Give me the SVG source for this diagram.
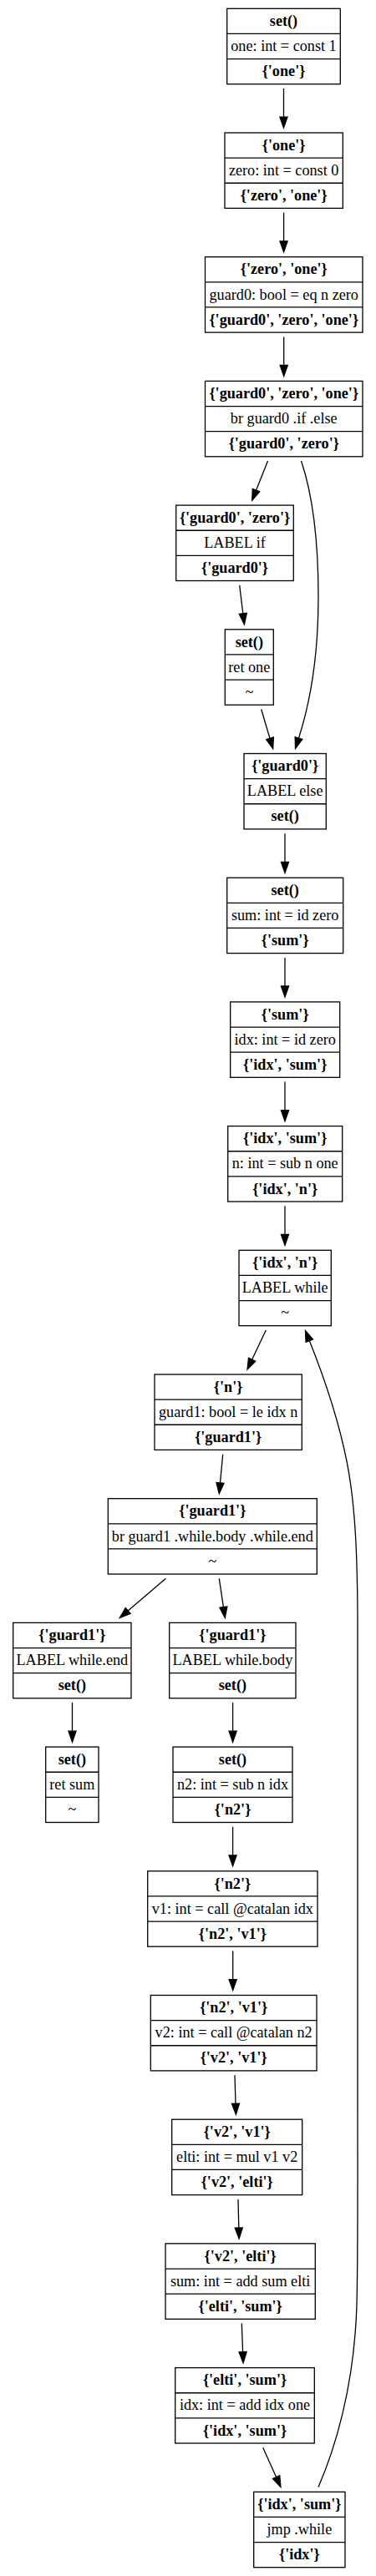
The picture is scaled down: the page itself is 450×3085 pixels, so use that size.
<svg xmlns="http://www.w3.org/2000/svg" width="450" height="3085" viewBox="0 0 450 3085">
<style>
.box rect{fill:#fff;stroke:#000;stroke-width:1.3}
.box line{stroke:#000;stroke-width:1.3}
text{font-family:"Liberation Serif","Times New Roman",serif;font-size:18.2px;text-anchor:middle;fill:#000}
.b{font-weight:bold}
.edge{fill:none;stroke:#000;stroke-width:1.3;marker-end:url(#ah)}
</style>
<defs>
<marker id="ah" markerUnits="userSpaceOnUse" viewBox="0 0 13 9.1" refX="0" refY="4.55" markerWidth="13" markerHeight="9.1" orient="auto" overflow="visible">
<path d="M0,0 L13,4.55 L0,9.1 Z" fill="#000" stroke="#000" stroke-width="1.3"/>
</marker>
</defs>
<rect x="0" y="0" width="450" height="3085" fill="#fff"/>
<g id="edges">
<path class="edge" d="M339.5,106 L339.5,140.1"/>
<path class="edge" d="M339.6,254.7 L339.6,288.8"/>
<path class="edge" d="M339.7,403.4 L339.7,437.5"/>
<path class="edge" d="M320.5,552 L306.5,587.2"/>
<path class="edge" d="M360.5,552 C374,592 381,650 381,715 C381,790 370,845 357.5,884"/>
<path class="edge" d="M286.7,700.9 L290.8,734.8"/>
<path class="edge" d="M312.7,849.5 L323,884.2"/>
<path class="edge" d="M341,998.2 L341,1032.3"/>
<path class="edge" d="M341,1146.9 L341,1181"/>
<path class="edge" d="M341,1295.6 L341,1329.7"/>
<path class="edge" d="M341,1444.3 L341,1478.4"/>
<path class="edge" d="M318.3,1593 L301.6,1628.3"/>
<path class="edge" d="M266.7,1741.7 L263.5,1775.9"/>
<path class="edge" d="M198.3,1890.4 L153.2,1929"/>
<path class="edge" d="M262.3,1890.4 L267.4,1924.6"/>
<path class="edge" d="M86.5,2039.1 L86.5,2073.2"/>
<path class="edge" d="M278.6,2039.1 L278.6,2073.2"/>
<path class="edge" d="M278.6,2187.8 L278.6,2221.9"/>
<path class="edge" d="M278.7,2336.5 L278.7,2370.6"/>
<path class="edge" d="M281,2485.2 L282,2519.3"/>
<path class="edge" d="M285,2633.9 L285.8,2668"/>
<path class="edge" d="M289.3,2782.6 L290.6,2816.7"/>
<path class="edge" d="M314.7,2931.3 L330.6,2966.6"/>
<path class="edge" d="M381,2978.4 C400,2935 424,2860 427,2760 C428.5,2700 428,2620 428,2500 L428,1950 C428,1860 425,1800 415,1750 C405,1700 388,1650 370.3,1605.6"/>
</g>
<g id="n0" class="box"><rect x="271.7" y="10.3" width="135.6" height="90.4"/><line x1="271.7" y1="40.43" x2="407.3" y2="40.43"/><line x1="271.7" y1="70.57" x2="407.3" y2="70.57"/><text x="339.5" y="31" class="b">set()</text><text x="339.5" y="61.1">one: int = const 1</text><text x="339.5" y="91.2" class="b">{'one'}</text></g>
<g id="n1" class="box"><rect x="269" y="159" width="141.3" height="90.4"/><line x1="269" y1="189.13" x2="410.3" y2="189.13"/><line x1="269" y1="219.27" x2="410.3" y2="219.27"/><text x="339.65" y="179.7" class="b">{'one'}</text><text x="339.65" y="209.8">zero: int = const 0</text><text x="339.65" y="239.9" class="b">{'zero', 'one'}</text></g>
<g id="n2" class="box"><rect x="245.5" y="307.7" width="188.5" height="90.4"/><line x1="245.5" y1="337.83" x2="434" y2="337.83"/><line x1="245.5" y1="367.97" x2="434" y2="367.97"/><text x="339.75" y="328.4" class="b">{'zero', 'one'}</text><text x="339.75" y="358.5">guard0: bool = eq n zero</text><text x="339.75" y="388.6" class="b">{'guard0', 'zero', 'one'}</text></g>
<g id="n3" class="box"><rect x="245.5" y="456.4" width="188.5" height="90.4"/><line x1="245.5" y1="486.53" x2="434" y2="486.53"/><line x1="245.5" y1="516.67" x2="434" y2="516.67"/><text x="339.75" y="477.1" class="b">{'guard0', 'zero', 'one'}</text><text x="339.75" y="507.2">br guard0 .if .else</text><text x="339.75" y="537.3" class="b">{'guard0', 'zero'}</text></g>
<g id="n4" class="box"><rect x="210.7" y="605.1" width="140.6" height="90.4"/><line x1="210.7" y1="635.23" x2="351.3" y2="635.23"/><line x1="210.7" y1="665.37" x2="351.3" y2="665.37"/><text x="281" y="625.8" class="b">{'guard0', 'zero'}</text><text x="281" y="655.9">LABEL if</text><text x="281" y="686" class="b">{'guard0'}</text></g>
<g id="n5" class="box"><rect x="269.3" y="753.8" width="58" height="90.4"/><line x1="269.3" y1="783.93" x2="327.3" y2="783.93"/><line x1="269.3" y1="814.07" x2="327.3" y2="814.07"/><text x="298.3" y="774.5" class="b">set()</text><text x="298.3" y="804.6">ret one</text><text x="298.3" y="834.7">~</text></g>
<g id="n6" class="box"><rect x="292" y="902.5" width="98.3" height="90.4"/><line x1="292" y1="932.63" x2="390.3" y2="932.63"/><line x1="292" y1="962.77" x2="390.3" y2="962.77"/><text x="341.15" y="923.2" class="b">{'guard0'}</text><text x="341.15" y="953.3">LABEL else</text><text x="341.15" y="983.4" class="b">set()</text></g>
<g id="n7" class="box"><rect x="271.7" y="1051.2" width="139" height="90.4"/><line x1="271.7" y1="1081.33" x2="410.7" y2="1081.33"/><line x1="271.7" y1="1111.47" x2="410.7" y2="1111.47"/><text x="341.2" y="1071.9" class="b">set()</text><text x="341.2" y="1102">sum: int = id zero</text><text x="341.2" y="1132.1" class="b">{'sum'}</text></g>
<g id="n8" class="box"><rect x="275.7" y="1199.9" width="131" height="90.4"/><line x1="275.7" y1="1230.03" x2="406.7" y2="1230.03"/><line x1="275.7" y1="1260.17" x2="406.7" y2="1260.17"/><text x="341.2" y="1220.6" class="b">{'sum'}</text><text x="341.2" y="1250.7">idx: int = id zero</text><text x="341.2" y="1280.8" class="b">{'idx', 'sum'}</text></g>
<g id="n9" class="box"><rect x="272.7" y="1348.6" width="137" height="90.4"/><line x1="272.7" y1="1378.73" x2="409.7" y2="1378.73"/><line x1="272.7" y1="1408.87" x2="409.7" y2="1408.87"/><text x="341.2" y="1369.3" class="b">{'idx', 'sum'}</text><text x="341.2" y="1399.4">n: int = sub n one</text><text x="341.2" y="1429.5" class="b">{'idx', 'n'}</text></g>
<g id="n10" class="box"><rect x="286" y="1497.3" width="110.3" height="90.4"/><line x1="286" y1="1527.43" x2="396.3" y2="1527.43"/><line x1="286" y1="1557.57" x2="396.3" y2="1557.57"/><text x="341.15" y="1518" class="b">{'idx', 'n'}</text><text x="341.15" y="1548.1">LABEL while</text><text x="341.15" y="1578.2">~</text></g>
<g id="n11" class="box"><rect x="185" y="1646" width="176.3" height="90.4"/><line x1="185" y1="1676.13" x2="361.3" y2="1676.13"/><line x1="185" y1="1706.27" x2="361.3" y2="1706.27"/><text x="273.15" y="1666.7" class="b">{'n'}</text><text x="273.15" y="1696.8">guard1: bool = le idx n</text><text x="273.15" y="1726.9" class="b">{'guard1'}</text></g>
<g id="n12" class="box"><rect x="129.3" y="1794.7" width="250" height="90.4"/><line x1="129.3" y1="1824.83" x2="379.3" y2="1824.83"/><line x1="129.3" y1="1854.97" x2="379.3" y2="1854.97"/><text x="254.3" y="1815.4" class="b">{'guard1'}</text><text x="254.3" y="1845.5">br guard1 .while.body .while.end</text><text x="254.3" y="1875.6">~</text></g>
<g id="n13" class="box"><rect x="15.7" y="1943.4" width="141.3" height="90.4"/><line x1="15.7" y1="1973.53" x2="157" y2="1973.53"/><line x1="15.7" y1="2003.67" x2="157" y2="2003.67"/><text x="86.35" y="1964.1" class="b">{'guard1'}</text><text x="86.35" y="1994.2">LABEL while.end</text><text x="86.35" y="2024.3" class="b">set()</text></g>
<g id="n14" class="box"><rect x="202.7" y="1943.4" width="151.3" height="90.4"/><line x1="202.7" y1="1973.53" x2="354" y2="1973.53"/><line x1="202.7" y1="2003.67" x2="354" y2="2003.67"/><text x="278.35" y="1964.1" class="b">{'guard1'}</text><text x="278.35" y="1994.2">LABEL while.body</text><text x="278.35" y="2024.3" class="b">set()</text></g>
<g id="n15" class="box"><rect x="54.7" y="2092.1" width="63.3" height="90.4"/><line x1="54.7" y1="2122.23" x2="118" y2="2122.23"/><line x1="54.7" y1="2152.37" x2="118" y2="2152.37"/><text x="86.35" y="2112.8" class="b">set()</text><text x="86.35" y="2142.9">ret sum</text><text x="86.35" y="2173">~</text></g>
<g id="n16" class="box"><rect x="207" y="2092.1" width="143" height="90.4"/><line x1="207" y1="2122.23" x2="350" y2="2122.23"/><line x1="207" y1="2152.37" x2="350" y2="2152.37"/><text x="278.5" y="2112.8" class="b">set()</text><text x="278.5" y="2142.9">n2: int = sub n idx</text><text x="278.5" y="2173" class="b">{'n2'}</text></g>
<g id="n17" class="box"><rect x="176.7" y="2240.8" width="203.3" height="90.4"/><line x1="176.7" y1="2270.93" x2="380" y2="2270.93"/><line x1="176.7" y1="2301.07" x2="380" y2="2301.07"/><text x="278.35" y="2261.5" class="b">{'n2'}</text><text x="278.35" y="2291.6">v1: int = call @catalan idx</text><text x="278.35" y="2321.7" class="b">{'n2', 'v1'}</text></g>
<g id="n18" class="box"><rect x="180.3" y="2389.5" width="198.7" height="90.4"/><line x1="180.3" y1="2419.63" x2="379" y2="2419.63"/><line x1="180.3" y1="2449.77" x2="379" y2="2449.77"/><text x="279.65" y="2410.2" class="b">{'n2', 'v1'}</text><text x="279.65" y="2440.3">v2: int = call @catalan n2</text><text x="279.65" y="2470.4" class="b">{'v2', 'v1'}</text></g>
<g id="n19" class="box"><rect x="205.7" y="2538.2" width="156" height="90.4"/><line x1="205.7" y1="2568.33" x2="361.7" y2="2568.33"/><line x1="205.7" y1="2598.47" x2="361.7" y2="2598.47"/><text x="283.7" y="2558.9" class="b">{'v2', 'v1'}</text><text x="283.7" y="2589">elti: int = mul v1 v2</text><text x="283.7" y="2619.1" class="b">{'v2', 'elti'}</text></g>
<g id="n20" class="box"><rect x="198" y="2686.9" width="179.3" height="90.4"/><line x1="198" y1="2717.03" x2="377.3" y2="2717.03"/><line x1="198" y1="2747.17" x2="377.3" y2="2747.17"/><text x="287.65" y="2707.6" class="b">{'v2', 'elti'}</text><text x="287.65" y="2737.7">sum: int = add sum elti</text><text x="287.65" y="2767.8" class="b">{'elti', 'sum'}</text></g>
<g id="n21" class="box"><rect x="209.7" y="2835.6" width="166.6" height="90.4"/><line x1="209.7" y1="2865.73" x2="376.3" y2="2865.73"/><line x1="209.7" y1="2895.87" x2="376.3" y2="2895.87"/><text x="293" y="2856.3" class="b">{'elti', 'sum'}</text><text x="293" y="2886.4">idx: int = add idx one</text><text x="293" y="2916.5" class="b">{'idx', 'sum'}</text></g>
<g id="n22" class="box"><rect x="303.7" y="2984.3" width="109.3" height="90.4"/><line x1="303.7" y1="3014.43" x2="413" y2="3014.43"/><line x1="303.7" y1="3044.57" x2="413" y2="3044.57"/><text x="358.35" y="3005" class="b">{'idx', 'sum'}</text><text x="358.35" y="3035.1">jmp .while</text><text x="358.35" y="3065.2" class="b">{'idx'}</text></g>
</svg>
